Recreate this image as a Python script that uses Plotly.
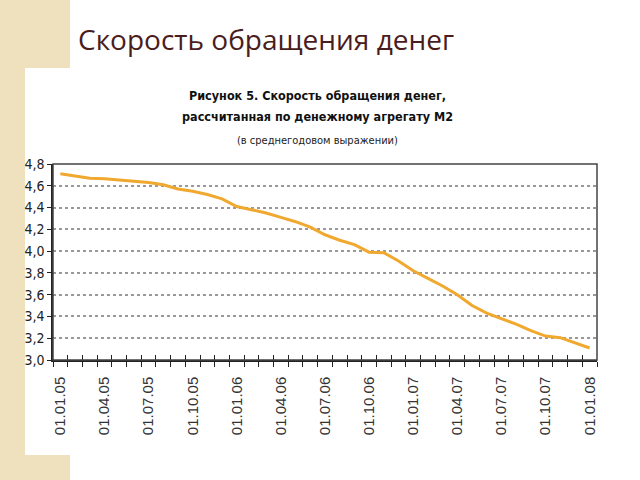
import plotly.graph_objects as go

months = ["01.%02d.%02d" % (m, y) for y in (5, 6, 7) for m in range(1, 13)] + ["01.01.08"]
velocity = [4.71, 4.69, 4.67, 4.665, 4.655, 4.64, 4.63, 4.61, 4.57, 4.55, 4.52, 4.48,
            4.41, 4.38, 4.35, 4.31, 4.27, 4.22, 4.15, 4.10, 4.06, 3.99, 3.985, 3.91,
            3.82, 3.75, 3.68, 3.60, 3.50, 3.43, 3.38, 3.33, 3.27, 3.22, 3.205, 3.16, 3.11]
y_ticks = [3.0, 3.2, 3.4, 3.6, 3.8, 4.0, 4.2, 4.4, 4.6, 4.8]
y_ticktext = ["3,0", "3,2", "3,4", "3,6", "3,8", "4,0", "4,2", "4,4", "4,6", "4,8"]

slide_title = "Скорость обращения денег"
chart_title = ["Рисунок 5. Скорость обращения денег,", "рассчитанная по денежному агрегату М2"]
chart_sub = "(в среднегодовом выражении)"

idx = list(range(len(months)))
label_idx = idx[::3]

fig = go.Figure()
fig.add_trace(go.Scatter(x=idx, y=velocity, mode="lines",
                         line=dict(color="#F0A82E", width=3), showlegend=False,
                         hoverinfo="skip"))
# dummy trace on overlay axis for inside ticks
fig.add_trace(go.Scatter(x=[idx[0]], y=[velocity[0]], xaxis="x2", mode="markers",
                         marker=dict(opacity=0), showlegend=False, hoverinfo="skip"))

narrow = "DejaVu Sans Condensed, sans-serif"
beige = "#EFE1BE"

fig.update_layout(
    width=640, height=480,
    margin=dict(l=53, r=43, t=164, b=120),
    paper_bgcolor="white", plot_bgcolor="white",
    xaxis=dict(range=[-0.5, len(months) - 0.5], tickmode="array",
               tickvals=label_idx, ticktext=[months[i] for i in label_idx],
               tickangle=-90, ticks="", showgrid=False, zeroline=False,
               showline=True, linecolor="#222", linewidth=1.5, mirror=False,
               tickfont=dict(family="Liberation Sans, Arial, sans-serif", size=15, color="#333"),
               ticklabelstandoff=9,
               minor=dict(tickmode="linear", tick0=-0.5, dtick=1, ticks="outside",
                          ticklen=5, tickcolor="#222", tickwidth=1, showgrid=False)),
    xaxis2=dict(range=[-0.5, len(months) - 0.5], overlaying="x", anchor="y", side="bottom",
                tickmode="linear", tick0=-0.5, dtick=1, ticks="inside", ticklen=5,
                tickcolor="#222", tickwidth=1, showticklabels=False, showgrid=False,
                zeroline=False, showline=False),
    yaxis=dict(range=[3.0, 4.8], tickmode="array", tickvals=y_ticks, ticktext=y_ticktext,
               showgrid=True, gridcolor="#999", griddash="dot", gridwidth=1.5,
               zeroline=False, showline=True, linecolor="#222", linewidth=1.5,
               ticks="outside", ticklen=4, tickcolor="#222",
               tickfont=dict(family=narrow, size=14, color="#222")),
    shapes=[
        dict(type="rect", xref="paper", yref="paper", x0=0, x1=1, y0=0, y1=1,
             line=dict(color="#444", width=1.5), fillcolor="rgba(0,0,0,0)", layer="above"),
        # slide decoration (beige panels on the left)
        dict(type="rect", xref="paper", yref="paper", x0=-53/544, x1=(70-53)/544,
             y0=(480-68-120)/196, y1=(480-120)/196, fillcolor=beige, line=dict(width=0), layer="below"),
        dict(type="rect", xref="paper", yref="paper", x0=-53/544, x1=(25-53)/544,
             y0=-120/196, y1=(480-120)/196, fillcolor=beige, line=dict(width=0), layer="below"),
        dict(type="rect", xref="paper", yref="paper", x0=-53/544, x1=(70-53)/544,
             y0=-120/196, y1=(480-455-120)/196, fillcolor=beige, line=dict(width=0), layer="below"),
    ],
    annotations=[
        dict(text=slide_title, xref="paper", yref="paper", x=(76-53)/544, y=(480-120-60)/196,
             xanchor="left", yanchor="bottom", showarrow=False,
             font=dict(family="Open Sans, sans-serif", size=28, color="#4A1C1C")),
        dict(text="<b>" + chart_title[0] + "</b>", xref="paper", yref="paper",
             x=(317-53)/544, y=(480-120-95)/196, xanchor="center", yanchor="middle",
             showarrow=False, font=dict(family=narrow, size=12.5, color="#111")),
        dict(text="<b>" + chart_title[1] + "</b>", xref="paper", yref="paper",
             x=(317-53)/544, y=(480-120-117)/196, xanchor="center", yanchor="middle",
             showarrow=False, font=dict(family=narrow, size=12.5, color="#111")),
        dict(text=chart_sub, xref="paper", yref="paper",
             x=(317-53)/544, y=(480-120-140)/196, xanchor="center", yanchor="middle",
             showarrow=False, font=dict(family=narrow, size=11, color="#222")),
    ],
)

fig.write_html("out.html")
